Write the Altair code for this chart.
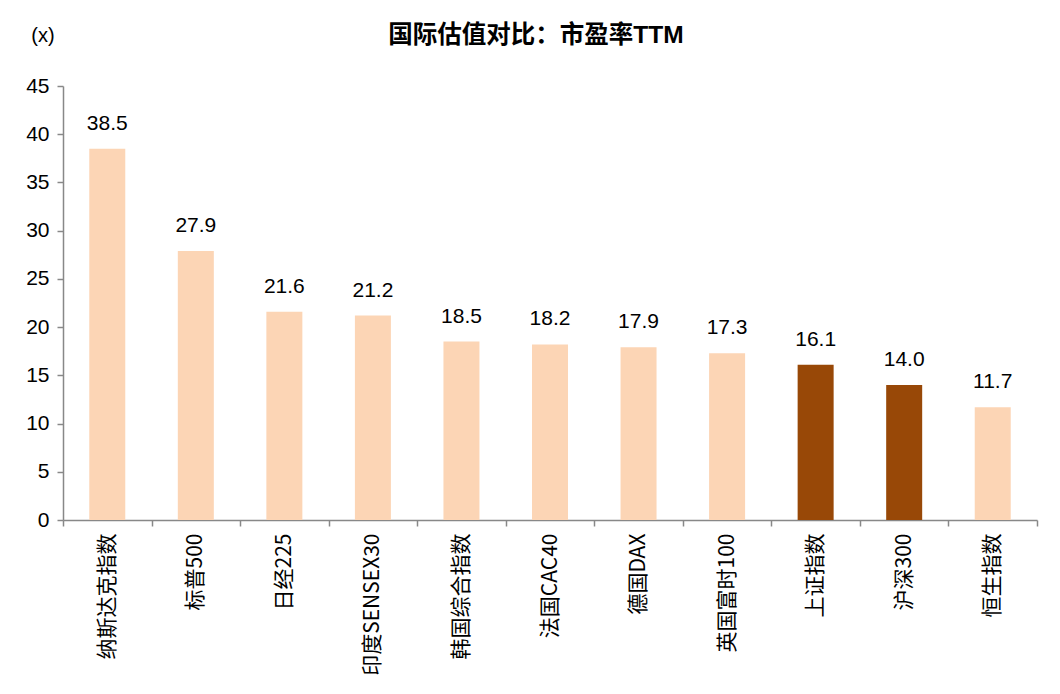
import pandas as pd
import altair as alt

names = ["纳斯达克指数", "标普500", "日经225", "印度SENSEX30", "韩国综合指数",
         "法国CAC40", "德国DAX", "英国富时100", "上证指数", "沪深300", "恒生指数"]
pe = [38.5, 27.9, 21.6, 21.2, 18.5, 18.2, 17.9, 17.3, 16.1, 14.0, 11.7]
china = [False, False, False, False, False, False, False, False, True, True, False]

df = pd.DataFrame({"name": names, "pe": pe, "china": china})
df["label"] = df["pe"].map(lambda v: f"{v:.1f}")

FONT = "Liberation Sans, Noto Sans CJK SC"
NARROW = "Liberation Sans Narrow, Noto Sans CJK SC"

base = alt.Chart(df).encode(
    x=alt.X("name:N", sort=names, title=None,
            scale=alt.Scale(paddingInner=0, paddingOuter=0),
            axis=alt.Axis(labelAngle=-90, labelFontSize=21, labelFont=NARROW,
                          labelColor="black", labelPadding=7, tickBand="extent",
                          labelLimit=300,
                          domainColor="#888888", tickColor="#888888", tickSize=6,
                          domainWidth=1.5, tickWidth=1.5)),
)

bars = base.mark_bar(width=36).encode(
    y=alt.Y("pe:Q", title=None,
            scale=alt.Scale(domain=[0, 45], nice=False),
            axis=alt.Axis(values=list(range(0, 50, 5)), labelFontSize=21, labelFont=FONT,
                          labelColor="black", labelPadding=8, grid=False,
                          domainColor="#888888", tickColor="#888888", tickSize=6,
                          domainWidth=1.5, tickWidth=1.5)),
    color=alt.condition(alt.datum.china, alt.value("#984807"), alt.value("#FCD5B5")),
)

labels = base.mark_text(dy=-25, fontSize=21, font=FONT, color="black").encode(
    y="pe:Q", text="label:N"
)

unit = alt.Chart(pd.DataFrame({"t": ["(x)"]})).mark_text(
    fontSize=20, font=FONT, color="black", align="center"
).encode(x=alt.value(-20), y=alt.value(-50), text="t:N")

title = alt.Chart(pd.DataFrame({"t": ["国际估值对比：市盈率TTM"]})).mark_text(
    fontSize=24.5, font=FONT, fontWeight="bold", color="black", align="center"
).encode(x=alt.value(473), y=alt.value(-50), text="t:N")

chart = (bars + labels + unit + title).properties(
    width=974, height=434,
    autosize=alt.AutoSizeParams(type="none"),
    padding={"left": 55, "top": 78, "right": 10, "bottom": 170},
).configure_view(stroke=None)

chart.save("out.html", embed_options={"renderer": "svg", "actions": False})
